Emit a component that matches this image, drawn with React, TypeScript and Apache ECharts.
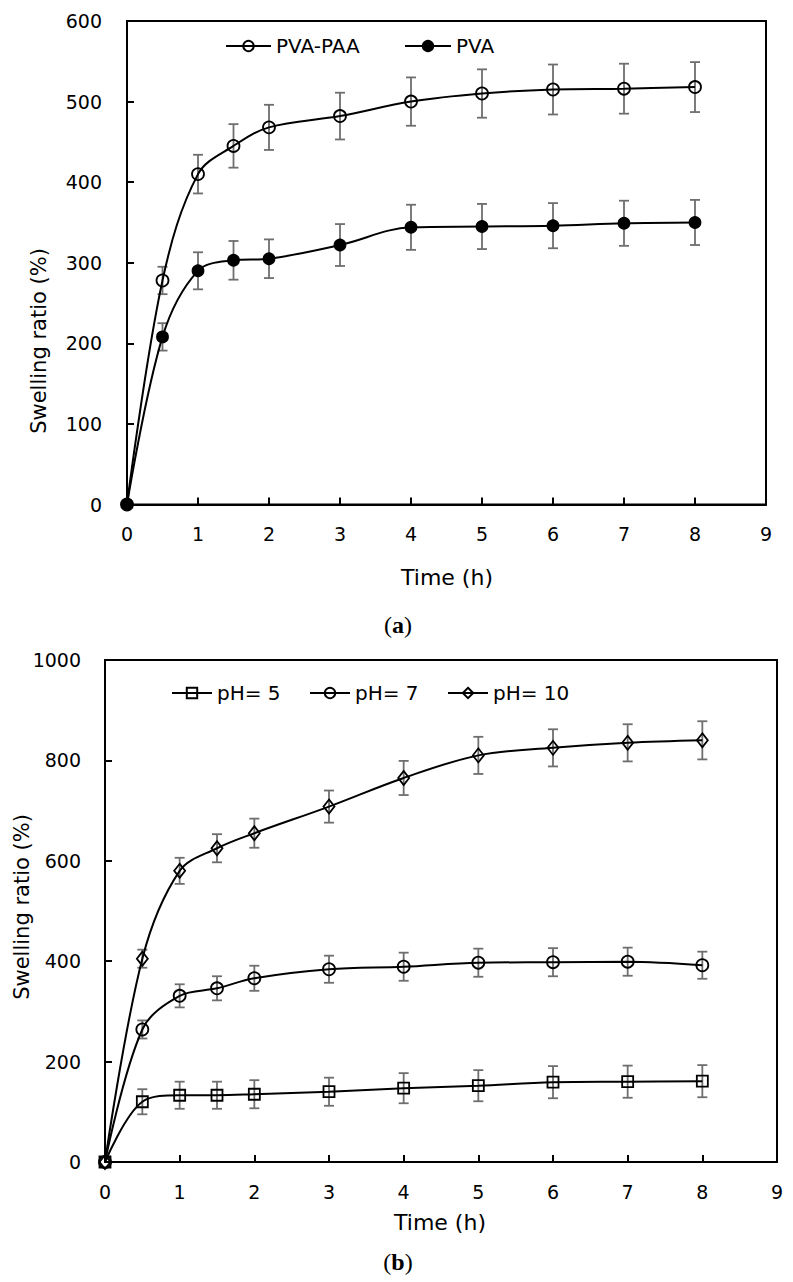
import React, { useEffect, useRef } from "react";
import * as echarts from "echarts";

// ---------- data ----------
const timeA = [0, 0.5, 1, 1.5, 2, 3, 4, 5, 6, 7, 8];
const pvaPaa = [0, 278, 410, 445, 468, 482, 500, 510, 515, 516, 518];
const pvaPaaErr = [0, 17, 24, 27, 28, 29, 30, 30, 31, 31, 31];
const pva = [0, 208, 290, 303, 305, 322, 344, 345, 346, 349, 350];
const pvaErr = [0, 17, 23, 24, 24, 26, 28, 28, 28, 28, 28];

const timeB = [0, 0.5, 1, 1.5, 2, 3, 4, 5, 6, 7, 8];
const ph5 = [0, 120, 133, 133, 135, 140, 147, 152, 159, 160, 161];
const ph5Err = [0, 25, 27, 27, 28, 28, 30, 31, 32, 32, 32];
const ph7 = [0, 264, 331, 346, 366, 384, 389, 397, 398, 399, 392];
const ph7Err = [0, 18, 23, 24, 25, 27, 28, 28, 28, 28, 27];
const ph10 = [0, 405, 580, 625, 655, 708, 765, 810, 825, 835, 840];
const ph10Err = [0, 18, 26, 28, 29, 32, 34, 37, 37, 37, 38];

const xTicksMax = 9;
const yMaxA = 600;
const yIntA = 100;
const yMaxB = 1000;
const yIntB = 200;

const FONT = "DejaVu Sans";
const ERR_COLOR = "#6e6e6e";

function pts(t: number[], v: number[]) {
  return t.map((x, i) => [x, v[i]]);
}
function errs(t: number[], v: number[], e: number[]) {
  return t
    .map((x, i) => [x, v[i] - e[i], v[i] + e[i]])
    .filter((_, i) => e[i] > 0);
}

function errSeries(name: string, idx: number, data: number[][]) {
  return {
    name,
    type: "custom",
    xAxisIndex: idx,
    yAxisIndex: idx,
    silent: true,
    z: 3,
    encode: { x: 0, y: [1, 2] },
    data,
    renderItem: (params: any, api: any) => {
      const x = api.value(0);
      const top = api.coord([x, api.value(2)]);
      const bot = api.coord([x, api.value(1)]);
      const w = 5;
      const style = { stroke: ERR_COLOR, lineWidth: 1.8 };
      return {
        type: "group",
        children: [
          { type: "line", shape: { x1: top[0], y1: top[1], x2: bot[0], y2: bot[1] }, style },
          { type: "line", shape: { x1: top[0] - w, y1: top[1], x2: top[0] + w, y2: top[1] }, style },
          { type: "line", shape: { x1: bot[0] - w, y1: bot[1], x2: bot[0] + w, y2: bot[1] }, style },
        ],
      };
    },
  };
}

function lineSeries(name: string, idx: number, data: number[][], symbol: string, size: any, filled: boolean) {
  return {
    name,
    type: "line",
    xAxisIndex: idx,
    yAxisIndex: idx,
    data,
    smooth: 0.35,
    symbol,
    symbolSize: size,
    showAllSymbol: true,
    z: 4,
    lineStyle: { color: "#000", width: 2 },
    itemStyle: {
      color: filled ? "#000" : "rgba(255,255,255,0)",
      borderColor: "#000",
      borderWidth: 1.8,
    },
    emphasis: { disabled: true },
  };
}

function xAxis(idx: number) {
  return {
    gridIndex: idx,
    type: "value",
    min: 0,
    max: xTicksMax,
    interval: 1,
    axisLine: { show: true, onZero: false, lineStyle: { color: "#000", width: 2 } },
    axisTick: { show: true, inside: true, length: 7, lineStyle: { color: "#000", width: 2 } },
    axisLabel: { margin: 20, fontSize: 19, color: "#000", fontFamily: FONT, formatter: (v: number) => String(v) },
    splitLine: { show: false },
  };
}
function yAxis(idx: number, max: number, interval: number, margin: number) {
  return {
    gridIndex: idx,
    type: "value",
    min: 0,
    max,
    interval,
    axisLine: { show: true, onZero: false, lineStyle: { color: "#000", width: 2 } },
    axisTick: { show: true, inside: true, length: 7, lineStyle: { color: "#000", width: 2 } },
    axisLabel: { margin, fontSize: 19, color: "#000", fontFamily: FONT, formatter: (v: number) => String(v) },
    splitLine: { show: false },
  };
}

function legend(name: string, left: number, top: number, itemWidth: number) {
  return {
    data: [name],
    left,
    top,
    itemWidth,
    itemHeight: 13,
    itemGap: 0,
    padding: 0,
    selectedMode: false,
    textStyle: { fontSize: 20, color: "#000", fontFamily: FONT },
  };
}

function title(text: string, x: number, y: number, size: number, rotate = false) {
  return {
    type: "text",
    x,
    y,
    rotation: rotate ? Math.PI / 2 : 0,
    style: {
      text,
      fill: "#000",
      fontSize: size,
      fontFamily: FONT,
      align: "center",
      verticalAlign: "middle",
    },
  };
}

function caption(letter: string, x: number, y: number) {
  return {
    type: "text",
    x,
    y,
    style: {
      text: `{n|(}{b|${letter}}{n|)}`,
      align: "center",
      verticalAlign: "middle",
      fontSize: 24,
      fontFamily: "Liberation Serif",
      rich: {
        n: { fontFamily: "Liberation Serif", fontSize: 24, fill: "#000", fontWeight: "normal" },
        b: { fontFamily: "Liberation Serif", fontSize: 24, fill: "#000", fontWeight: "bold" },
      },
    },
  };
}

export default function App() {
  const ref = useRef<HTMLDivElement>(null);
  useEffect(() => {
    document.body.style.margin = "0";
    const chart = echarts.init(ref.current!, null, { renderer: "svg" });
    chart.setOption({
      animation: false,
      backgroundColor: "#fff",
      textStyle: { fontFamily: FONT },
      grid: [
        { left: 127, top: 21, width: 639, height: 483.5, show: true, borderColor: "#000", borderWidth: 2, backgroundColor: "transparent" },
        { left: 105, top: 660, width: 672, height: 502, show: true, borderColor: "#000", borderWidth: 2, backgroundColor: "transparent" },
      ],
      xAxis: [xAxis(0), xAxis(1)],
      yAxis: [yAxis(0, yMaxA, yIntA, 25), yAxis(1, yMaxB, yIntB, 24)],
      legend: [
        legend("PVA-PAA", 225, 36, 45),
        legend("PVA", 404, 36, 46),
        legend("pH= 5", 171, 683, 40),
        legend("pH= 7", 309, 683, 40),
        legend("pH= 10", 447, 683, 40),
      ],
      series: [
        errSeries("errPvaPaa", 0, errs(timeA, pvaPaa, pvaPaaErr)),
        errSeries("errPva", 0, errs(timeA, pva, pvaErr)),
        lineSeries("PVA-PAA", 0, pts(timeA, pvaPaa), "circle", 12, false),
        lineSeries("PVA", 0, pts(timeA, pva), "circle", 11, true),
        errSeries("errPh5", 1, errs(timeB, ph5, ph5Err)),
        errSeries("errPh7", 1, errs(timeB, ph7, ph7Err)),
        errSeries("errPh10", 1, errs(timeB, ph10, ph10Err)),
        lineSeries("pH= 5", 1, pts(timeB, ph5), "rect", 11, false),
        lineSeries("pH= 7", 1, pts(timeB, ph7), "circle", 12, false),
        lineSeries("pH= 10", 1, pts(timeB, ph10), "diamond", [11, 14], false),
      ],
      graphic: [
        title("Swelling ratio (%)", 39, 341, 21, true),
        title("Time (h)", 447, 577, 22),
        caption("a", 398, 625),
        title("Swelling ratio (%)", 22, 907, 21, true),
        title("Time (h)", 440, 1222, 22),
        caption("b", 398, 1262),
      ],
    });
    return () => chart.dispose();
  }, []);
  return (
    <div
      ref={ref}
      style={{ position: "absolute", left: 0, top: 0, width: 793, height: 1282 }}
    />
  );
}
